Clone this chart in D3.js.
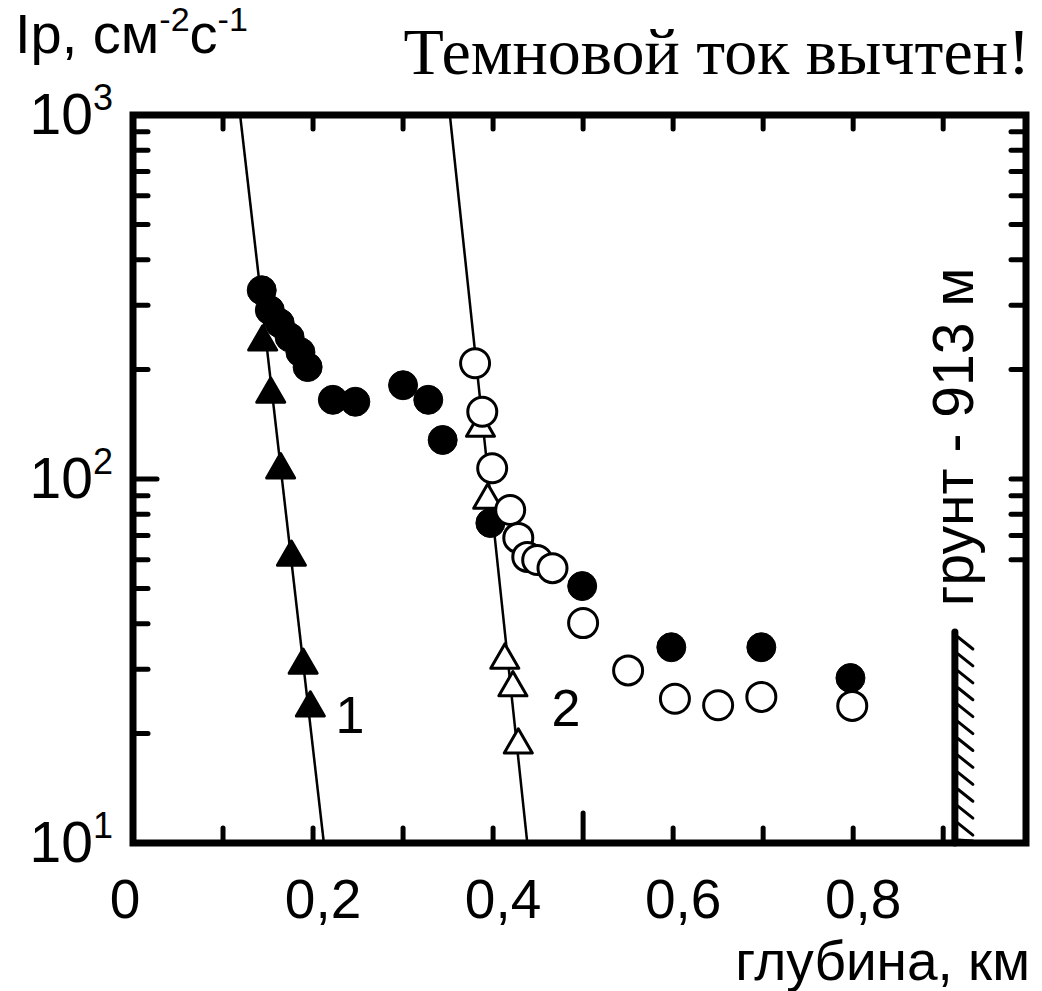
<!DOCTYPE html>
<html>
<head>
<meta charset="utf-8">
<script src="https://cdn.jsdelivr.net/npm/d3@7"></script>
<style>
  body { margin: 0; background: #fff; }
  text { font-family: "Liberation Sans", Arial, sans-serif; fill: #000; }
</style>
</head>
<body>
<svg id="chart" width="1042" height="991"></svg>
<script>
// Depth (km) and flux Ip (cm^-2 s^-1) for each measured series
const depthFilledCircles = [0.143, 0.152, 0.163, 0.174, 0.186, 0.194, 0.222, 0.247, 0.300, 0.328, 0.344, 0.397, 0.499, 0.598, 0.698, 0.797];
const fluxFilledCircles  = [330, 291, 268, 245, 223, 203, 165, 163, 181, 165, 128, 75.7, 50.8, 34.5, 34.5, 28.4];

const depthOpenCircles = [0.380, 0.388, 0.399, 0.419, 0.428, 0.438, 0.449, 0.466, 0.500, 0.550, 0.602, 0.650, 0.698, 0.799];
const fluxOpenCircles  = [208, 153, 107, 82.2, 68.9, 61.1, 59.9, 56.9, 40.2, 29.8, 24.9, 23.9, 25.2, 23.8];

const depthFilledTriangles = [0.144, 0.153, 0.164, 0.176, 0.189, 0.197];
const fluxFilledTriangles  = [238, 171, 106, 61, 30.8, 23.5];

const depthOpenTriangles = [0.386, 0.394, 0.413, 0.422, 0.428];
const fluxOpenTriangles  = [138, 87.5, 31.8, 26.7, 18.6];

// Exponential fits (straight lines on the log axis): end points [depth, flux]
const fitLine1 = [[0.119, 1000], [0.212, 10]];
const fitLine2 = [[0.352, 1000], [0.438, 10]];

// Axis ticks and labels
const xTickValues  = [0.1, 0.2, 0.3, 0.4, 0.5, 0.6, 0.7, 0.8, 0.9];
const xLongTicks   = [0.5];
const xLabelValues = [0, 0.2, 0.4, 0.6, 0.8];
const xLabelTexts  = ["0", "0,2", "0,4", "0,6", "0,8"];
const yMajorValues = [10, 100, 1000];
const yExponents   = ["1", "2", "3"];
const yMinorValues = [20, 30, 40, 50, 60, 70, 80, 90, 200, 300, 400, 500, 600, 700, 800, 900];
const yRightMinor  = [60, 70, 80, 90, 100, 200, 300, 400, 500, 600, 700, 800, 900];

// Ground level
const groundDepth = 0.913;
const groundTopFlux = 38;

const svg = d3.select("#chart");

const x = d3.scaleLinear().domain([0, 0.992]).range([133, 1026]);
const y = d3.scaleLog().domain([10, 1000]).range([843, 115]);

const [x0, x1] = x.range();
const [y0, y1] = y.range();

// Fit lines, clipped to the plot frame
svg.append("clipPath").attr("id", "plotClip")
  .append("rect").attr("x", x0).attr("y", y1).attr("width", x1 - x0).attr("height", y0 - y1);

const line = d3.line().x(d => x(d[0])).y(d => y(d[1]));
const fits = svg.append("g").attr("clip-path", "url(#plotClip)");
[fitLine1, fitLine2].forEach(f => {
  fits.append("path").attr("d", line(f))
    .attr("fill", "none").attr("stroke", "#000").attr("stroke-width", 2.5);
});

// Ground marker with hatching
const gx = x(groundDepth);
const gTop = y(groundTopFlux);
const hatch = svg.append("g");
const nHatch = 13;
for (let i = 0; i < nHatch; i++) {
  const hy = gTop + 5 + i * (y0 - gTop - 8) / (nHatch - 1);
  hatch.append("line")
    .attr("x1", gx + 3).attr("y1", hy)
    .attr("x2", gx + 18).attr("y2", Math.min(hy + 12, y0 - 2))
    .attr("stroke", "#000").attr("stroke-width", 3).attr("stroke-linecap", "round");
}
hatch.append("line")
  .attr("x1", gx).attr("x2", gx).attr("y1", gTop).attr("y2", y0)
  .attr("stroke", "#000").attr("stroke-width", 7).attr("stroke-linecap", "round");

// Frame
svg.append("rect")
  .attr("x", x0).attr("y", y1).attr("width", x1 - x0).attr("height", y0 - y1)
  .attr("fill", "none").attr("stroke", "#000").attr("stroke-width", 7);

// Ticks (all pointing inward)
const ticks = svg.append("g").attr("stroke", "#000").attr("stroke-width", 5).attr("stroke-linecap", "round");
xTickValues.forEach(v => {
  const len = xLongTicks.includes(v) ? 30 : 15;
  ticks.append("line").attr("x1", x(v)).attr("x2", x(v)).attr("y1", y0).attr("y2", y0 - len);
  ticks.append("line").attr("x1", x(v)).attr("x2", x(v)).attr("y1", y1).attr("y2", y1 + 14);
});
yMajorValues.slice(1, -1).forEach(v => {
  ticks.append("line").attr("x1", x0).attr("x2", x0 + 24).attr("y1", y(v)).attr("y2", y(v));
});
yMinorValues.forEach(v => {
  ticks.append("line").attr("x1", x0).attr("x2", x0 + 15).attr("y1", y(v)).attr("y2", y(v));
});
yRightMinor.forEach(v => {
  ticks.append("line").attr("x1", x1).attr("x2", x1 - 15).attr("y1", y(v)).attr("y2", y(v));
});

// Tick labels
const xl = svg.append("g").attr("font-size", 55).attr("text-anchor", "middle");
xLabelValues.forEach((v, i) => {
  xl.append("text").attr("x", x(v) + (v === 0 ? -8 : 10)).attr("y", 918).text(xLabelTexts[i]);
});
const yl = svg.append("g").attr("font-size", 57).attr("text-anchor", "end");
yMajorValues.forEach((v, i) => {
  const t = yl.append("text").attr("x", 113).attr("y", y(v) + 19);
  t.append("tspan").text("10");
  t.append("tspan").attr("font-size", 36).attr("dy", -24).text(yExponents[i]);
});

// Point markers
const r = 14.5;
function circles(dx, dy, filled) {
  svg.append("g").selectAll("circle").data(d3.zip(dx, dy)).join("circle")
    .attr("cx", d => x(d[0])).attr("cy", d => y(d[1])).attr("r", r)
    .attr("fill", filled ? "#000" : "#fff").attr("stroke", "#000").attr("stroke-width", filled ? 1 : 3);
}
const tri = d3.symbol().type(d3.symbolTriangle).size(340);
function triangles(dx, dy, filled) {
  svg.append("g").selectAll("path").data(d3.zip(dx, dy)).join("path")
    .attr("d", tri)
    .attr("transform", d => `translate(${x(d[0])},${y(d[1])})`)
    .attr("fill", filled ? "#000" : "#fff").attr("stroke", "#000").attr("stroke-width", 3)
    .attr("stroke-linejoin", "round");
}
triangles(depthFilledTriangles, fluxFilledTriangles, true);
circles(depthFilledCircles, fluxFilledCircles, true);
triangles(depthOpenTriangles, fluxOpenTriangles, false);
circles(depthOpenCircles, fluxOpenCircles, false);

// Curve numbers
svg.append("text").attr("x", 350).attr("y", 733).attr("font-size", 52).attr("text-anchor", "middle").text("1");
svg.append("text").attr("x", 566).attr("y", 726).attr("font-size", 52).attr("text-anchor", "middle").text("2");

// Axis titles
const yt = svg.append("text").attr("x", 15).attr("y", 53).attr("font-size", 56);
yt.append("tspan").text("Ip, см");
yt.append("tspan").attr("font-size", 34).attr("dy", -22).text("-2");
yt.append("tspan").attr("dy", 22).text("с");
yt.append("tspan").attr("font-size", 34).attr("dy", -22).text("-1");

svg.append("text").attr("x", 1030).attr("y", 980).attr("font-size", 55).attr("text-anchor", "end").text("глубина, км");

svg.append("text").attr("x", 1030).attr("y", 74).attr("font-size", 66)
  .attr("text-anchor", "end").style("font-family", "'Liberation Serif', 'Times New Roman', serif")
  .text("Темновой ток вычтен!");

svg.append("text")
  .attr("transform", `translate(${gx + 18},${437}) rotate(-90)`)
  .attr("font-size", 57).attr("text-anchor", "middle")
  .text("грунт - 913 м");
</script>
</body>
</html>
